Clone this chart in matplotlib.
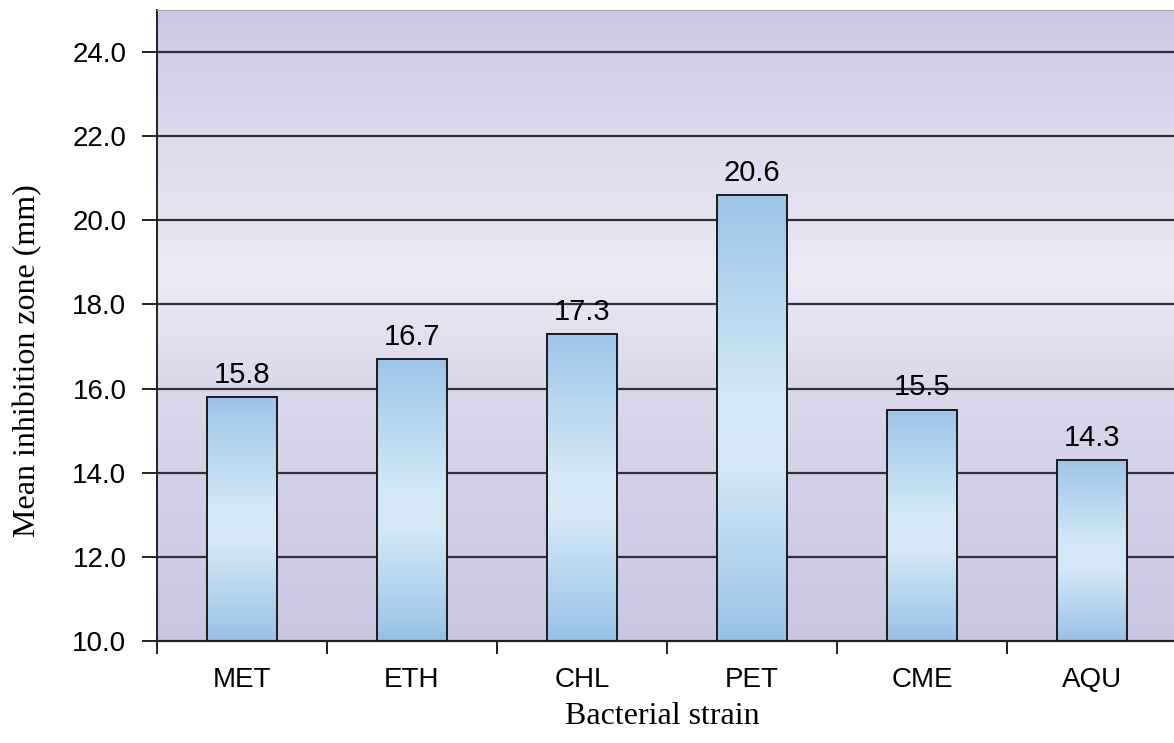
import numpy as np
import matplotlib
matplotlib.use("Agg")
import matplotlib.pyplot as plt
from matplotlib.colors import LinearSegmentedColormap

strains = ["MET", "ETH", "CHL", "PET", "CME", "AQU"]
zones = [15.8, 16.7, 17.3, 20.6, 15.5, 14.3]
yticks = [10.0, 12.0, 14.0, 16.0, 18.0, 20.0, 22.0, 24.0]

fig = plt.figure(figsize=(11.74, 7.43), dpi=100)
ax = fig.add_axes([157 / 1174, 1 - 641 / 743, 1020 / 1174, 631 / 743])

ymin, ymax = 10, 25
x = np.arange(len(strains))

# background gradient (dark purple - light - dark purple)
bg = LinearSegmentedColormap.from_list(
    "bg", [(0, "#c9c6e2"), (0.4, "#d9d8ec"), (0.58, "#eceaf5"), (0.8, "#dcdaed"), (1, "#cbc8e4")])
grad = np.linspace(0, 1, 256).reshape(-1, 1)
ax.imshow(grad, cmap=bg, aspect="auto", extent=[-0.5, len(strains) - 0.5, ymin, ymax],
          origin="lower", zorder=0)

for t in yticks[1:]:
    ax.axhline(t, color="#2f2f38", lw=1.6, zorder=1)

# bars with blue gradient
barcm = LinearSegmentedColormap.from_list(
    "bar", [(0, "#98c1e6"), (0.4, "#d5e9f7"), (0.55, "#d3e8f6"), (1, "#9cc4e7")])
w = 0.41
for xi, v in zip(x, zones):
    ax.imshow(grad, cmap=barcm, aspect="auto", extent=[xi - w / 2, xi + w / 2, ymin, v],
              origin="lower", zorder=2)
    ax.bar(xi, v - ymin, bottom=ymin, width=w, facecolor="none", edgecolor="#1a1a1a",
           lw=1.4, zorder=3)
    ax.annotate(f"{v:.1f}", (xi, v), xytext=(0, 16), textcoords="offset points",
                ha="center", va="center", fontsize=21, family="Liberation Sans", zorder=4)

ax.set_xlim(-0.5, len(strains) - 0.5)
ax.set_ylim(ymin, ymax)

ax.set_yticks(yticks)
ax.set_yticklabels([f"{t:.1f}" for t in yticks], family="Liberation Sans", fontsize=20)
ax.set_xticks(x)
ax.set_xticklabels(strains, family="Liberation Sans", fontsize=20)
ax.tick_params(axis="x", length=0, pad=19)
ax.tick_params(axis="y", length=11, width=1.4, pad=11, color="#222222")
ax.set_xticks(np.arange(-0.5, len(strains), 1), minor=True)
ax.tick_params(axis="x", which="minor", length=9, width=1.4, color="#222222")

ax.spines["top"].set_color("#a8a8a8")
ax.spines["right"].set_visible(False)
ax.spines["left"].set_linewidth(1.4)
ax.spines["bottom"].set_linewidth(1.6)
ax.spines["left"].set_color("#222222")
ax.spines["bottom"].set_color("#222222")

ax.set_xlabel("Bacterial strain", family="Liberation Serif", fontsize=23)
ax.set_ylabel("Mean inhibition zone (mm)", family="Liberation Serif", fontsize=23)
ax.yaxis.set_label_coords(-0.113, 0.445)
ax.xaxis.set_label_coords(0.495, -0.096)

fig.savefig("out.png", dpi=100)
